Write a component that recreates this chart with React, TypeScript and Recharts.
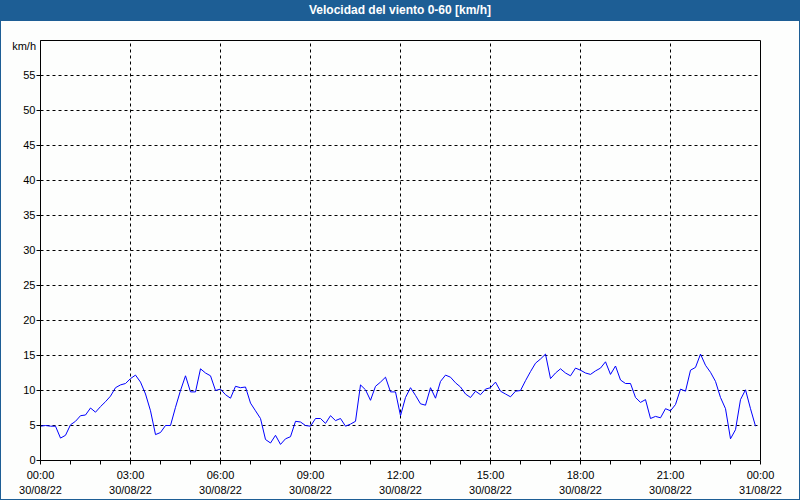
import React from 'react';
import { LineChart, Line, XAxis, YAxis, CartesianGrid, ReferenceLine } from 'recharts';

// lecturas cada 10 minutos, 30/08/22 00:00 - 23:50
const STEP_MIN = 10;
const speeds = [
  4.9, 5.0, 4.9, 4.9, 3.2, 3.6, 5.1, 5.6, 6.4, 6.5,
  7.5, 6.9, 7.7, 8.4, 9.2, 10.4, 10.8, 11.0, 11.7, 12.2,
  11.2, 9.5, 7.1, 3.7, 4.0, 5.0, 5.0, 7.6, 10.0, 12.1,
  9.8, 9.8, 13.1, 12.5, 12.1, 10.0, 10.2, 9.4, 8.9, 10.6,
  10.4, 10.5, 8.2, 7.1, 6.0, 3.0, 2.5, 3.6, 2.3, 3.1,
  3.4, 5.6, 5.5, 5.0, 4.9, 6.0, 6.0, 5.3, 6.4, 5.7,
  6.0, 4.9, 5.2, 5.6, 10.8, 10.1, 8.6, 10.6, 11.2, 11.9,
  9.8, 9.8, 6.4, 9.0, 10.4, 9.3, 8.1, 7.9, 10.4, 8.9,
  11.3, 12.2, 11.9, 11.1, 10.5, 9.5, 9.0, 9.9, 9.4, 10.2,
  10.4, 11.2, 9.9, 9.5, 9.1, 9.9, 10.0, 11.4, 12.7, 13.9,
  14.5, 15.2, 11.7, 12.5, 13.1, 12.5, 12.1, 13.2, 12.9, 12.5,
  12.3, 12.8, 13.2, 14.1, 12.3, 13.5, 11.5, 11.0, 11.0, 9.0,
  8.3, 8.7, 6.0, 6.3, 6.1, 7.4, 7.1, 8.0, 10.2, 9.9,
  12.9, 13.3, 15.2, 13.6, 12.6, 11.3, 9.0, 7.4, 3.1, 4.4,
  8.7, 10.1, 7.4, 4.9,
];

const hourTicks = [0, 1, 2, 3, 4, 5, 6, 7, 8, 9, 10, 11, 12, 13, 14, 15, 16, 17, 18, 19, 20, 21, 22, 23, 24];
const timeLabels = ['00:00', '03:00', '06:00', '09:00', '12:00', '15:00', '18:00', '21:00', '00:00'];
const dateLabels = ['30/08/22', '30/08/22', '30/08/22', '30/08/22', '30/08/22', '30/08/22', '30/08/22', '30/08/22', '31/08/22'];
const yTicks = [0, 5, 10, 15, 20, 25, 30, 35, 40, 45, 50, 55];
const gridHours = [3, 6, 9, 12, 15, 18, 21];

const data = speeds.map((v, i) => ({ min: i * STEP_MIN, v }));

const FONT = '"Liberation Sans", Arial, sans-serif';

const TimeTick = (props: any) => {
  const { x, payload } = props;
  const h = payload.value / 60;
  if (h % 3 !== 0) return null;
  const k = h / 3;
  return (
    <g>
      <text x={x} y={479} textAnchor="middle" fontSize={11} fontFamily={FONT} fill="#000">{timeLabels[k]}</text>
      <text x={x} y={494} textAnchor="middle" fontSize={11} fontFamily={FONT} fill="#000">{dateLabels[k]}</text>
    </g>
  );
};

export default function App() {
  return (
    <div style={{ position: 'fixed', left: 0, top: 0, width: 800, height: 500, background: '#fdfefd', fontFamily: FONT }}>
      <div style={{ position: 'absolute', left: 0, top: 0, width: 800, height: 21, background: '#1d5e95', color: '#fff', fontWeight: 'bold', fontSize: 12, textAlign: 'center', lineHeight: '21px' }}>
        Velocidad del viento 0-60 [km/h]
      </div>
      <div style={{ position: 'absolute', left: 0, top: 0, width: 800, height: 500, boxSizing: 'border-box', border: '1px solid #1d5e95', pointerEvents: 'none' }} />
      <div style={{ position: 'absolute', left: 0, top: 0 }}>
        <LineChart width={800} height={500} data={data} margin={{ top: 40.5, right: 39.5, bottom: 4.5, left: 0.5 }}>
          <CartesianGrid horizontal vertical={false} stroke="#000" strokeDasharray="3 3" />
          {gridHours.map((h) => (
            <ReferenceLine key={h} x={h * 60} stroke="#000" strokeDasharray="3 3" />
          ))}
          <ReferenceLine x={1440} stroke="#000" />
          <ReferenceLine y={60} stroke="#000" />
          <XAxis
            dataKey="min"
            type="number"
            domain={[0, 1440]}
            ticks={hourTicks.map((h) => h * 60)}
            interval={0}
            height={35}
            tickSize={4}
            stroke="#000"
            tick={<TimeTick />}
          />
          <YAxis
            type="number"
            domain={[0, 60]}
            ticks={yTicks}
            interval={0}
            width={40}
            tickSize={4}
            tickMargin={1}
            stroke="#000"
            tick={{ fontSize: 11, fontFamily: FONT, fill: '#000' }}
            label={{
              content: () => (
                <text x={36} y={50} textAnchor="end" fontSize={11} fontFamily={FONT} fill="#000">km/h</text>
              ),
            }}
          />
          <Line type="linear" dataKey="v" stroke="#0000ff" strokeWidth={1} dot={false} isAnimationActive={false} />
        </LineChart>
      </div>
    </div>
  );
}
